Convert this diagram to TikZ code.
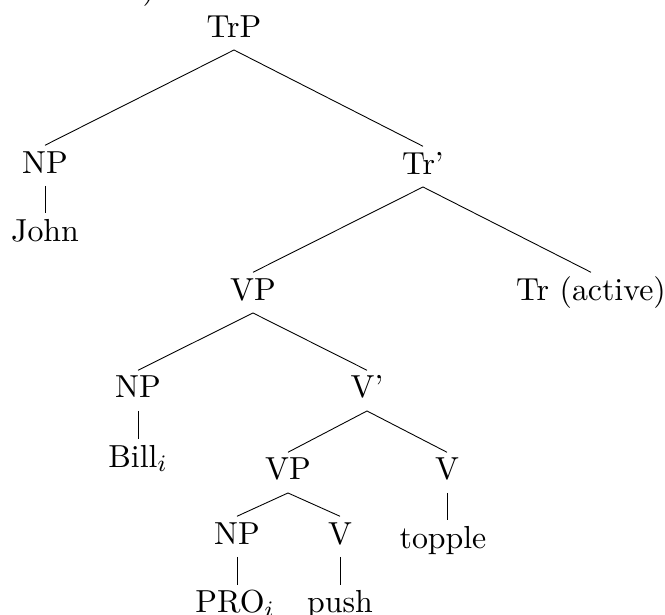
\documentclass[tikz,border=0pt]{standalone}
\begin{document}
\begin{tikzpicture}[x=0.339pt,y=-0.339pt,
  font=\fontsize{10.8}{13}\selectfont,
  lab/.style={inner sep=0pt,outer sep=0pt,text height=9.4pt,text depth=4.4pt,anchor=base},
  edge/.style={line width=0.3pt}]
\useasboundingbox (0,0) rectangle (665,615);
\node[inner sep=0pt,anchor=base west] (frag) at (142,-2) {)};
\node[lab] (trp) at (234,37) {TrP};
\node[lab] (np1) at (45,173) {NP};
\node[lab] (john) at (45,241) {John};
\node[lab] (trbar) at (423,174) {Tr'};
\node[lab] (vp1) at (253,300) {VP};
\node[lab] (tra) at (591,300) {Tr (active)};
\node[lab] (np2) at (138,398) {NP};
\node[lab] (vbar) at (367,398) {V'};
\node[lab] (bill) at (138,467) {Bill$_i$};
\node[lab] (vp2) at (288,480) {VP};
\node[lab] (v1) at (447,480) {V};
\node[lab] (topple) at (443,548) {topple};
\node[lab] (np3) at (237,544) {NP};
\node[lab] (v2) at (340,544) {V};
\node[lab] (pro) at (235,613) {PRO$_i$};
\node[lab] (push) at (340,613) {push};
\draw[edge] (trp.south) -- (np1.north);
\draw[edge] (trp.south) -- (trbar.north);
\draw[edge] (np1.south) -- (john.north);
\draw[edge] (trbar.south) -- (vp1.north);
\draw[edge] (trbar.south) -- (tra.north);
\draw[edge] (vp1.south) -- (np2.north);
\draw[edge] (vp1.south) -- (vbar.north);
\draw[edge] (np2.south) -- (bill.north);
\draw[edge] (vbar.south) -- (vp2.north);
\draw[edge] (vbar.south) -- (v1.north);
\draw[edge] (v1.south) -- (v1.south |- topple.north);
\draw[edge] (vp2.south) -- (np3.north);
\draw[edge] (vp2.south) -- (v2.north);
\draw[edge] (np3.south) -- (np3.south |- pro.north);
\draw[edge] (v2.south) -- (push.north);
\end{tikzpicture}
\end{document}
